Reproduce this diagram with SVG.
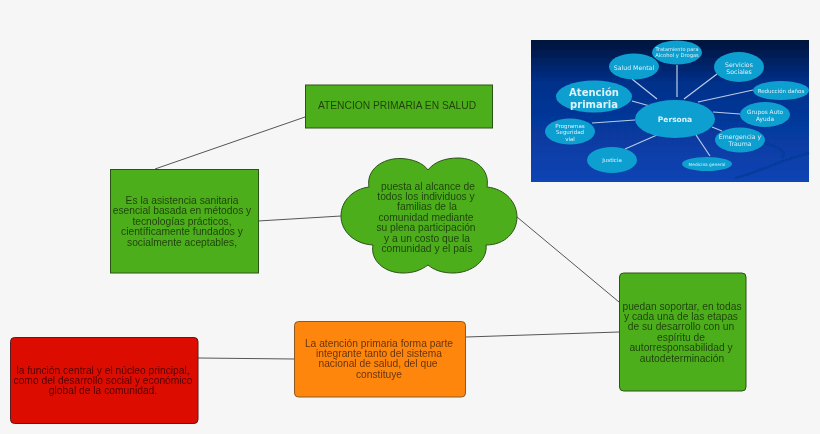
<svg xmlns="http://www.w3.org/2000/svg" width="820" height="434" viewBox="0 0 820 434">
<style>
.n{font:10.25px "Liberation Sans",Arial,sans-serif;fill:#000;fill-opacity:.62;text-anchor:middle}
.g{fill:#4eae1c;stroke:#2c5218;stroke-width:1}
.c{stroke:#555;stroke-width:1;fill:none}
.e{fill:#0e9fcf}
.s{stroke:#b7cde6;stroke-width:1.2;fill:none}
.p{font-family:"DejaVu Sans",Verdana,sans-serif;fill:#dff1fa;text-anchor:middle;font-size:6px}
.b{font-weight:bold}
</style>
<defs>
<linearGradient id="bg" x1="0" y1="0" x2="0" y2="1"><stop offset="0" stop-color="#03133a"/><stop offset="0.3" stop-color="#05308a"/><stop offset="1" stop-color="#0844b4"/></linearGradient>
<filter id="soft" x="-5%" y="-5%" width="110%" height="110%"><feGaussianBlur stdDeviation="0.55"/></filter>
<filter id="t" x="-2%" y="-2%" width="104%" height="104%"><feGaussianBlur stdDeviation="0.25"/></filter>
</defs>
<rect width="820" height="434" fill="#f6f6f6"/>
<g id="connectors" filter="url(#t)">
<path class="c" d="M155 169L305 117"/>
<path class="c" d="M258 221L341 216"/>
<path class="c" d="M517 217L619 302"/>
<path class="c" d="M466 337L619 332"/>
<path class="c" d="M198 358L294 359"/>
</g>
<g id="n-title" filter="url(#t)">
<rect class="g" x="305.500" y="85" width="187" height="43"/>
<text class="n" x="397" y="109">ATENCION PRIMARIA EN SALUD</text>
</g>
<g id="n-def" filter="url(#t)">
<rect class="g" x="110.500" y="169.500" width="148" height="103.500"/>
<text class="n"><tspan x="182" y="204">Es la asistencia sanitaria</tspan><tspan x="182" y="214.400">esencial basada en métodos y</tspan><tspan x="182" y="224.800">tecnologías prácticos,</tspan><tspan x="182" y="235.200">científicamente fundados y</tspan><tspan x="182" y="245.600">socialmente aceptables,</tspan></text>
</g>
<g id="n-cloud" filter="url(#t)">
<path class="g" d="M369 187C366 170 382 158 401 158.500C413 159 423 163 428 170C434 162 445 158 458 158C476 158 490 170 487 187C506 189 517 203 517 217C517 232 505 245 486 245C488 260 472 273 453 273C442 273 434 270 428 265C421 270 414 273 403 273C384 273 370 260 373 245C354 244 341 231 341 216C341 201 353 189 369 187Z"/>
<text class="n"><tspan x="428" y="189.500">puesta al alcance de</tspan><tspan x="426" y="199.900">todos los individuos y</tspan><tspan x="427" y="210.300">familias de la</tspan><tspan x="426" y="220.700">comunidad mediante</tspan><tspan x="426" y="231.100">su plena participación</tspan><tspan x="427" y="241.500">y a un costo que la</tspan><tspan x="427" y="251.900">comunidad y el país</tspan></text>
</g>
<g id="n-right" filter="url(#t)">
<rect class="g" x="619.500" y="273" width="126.500" height="118" rx="4"/>
<text class="n"><tspan x="682" y="309.500">puedan soportar, en todas</tspan><tspan x="681" y="319.900">y cada una de las etapas</tspan><tspan x="681" y="330.300">de su desarrollo con un</tspan><tspan x="681" y="340.700">espíritu de</tspan><tspan x="681" y="351.100">autorresponsabilidad y</tspan><tspan x="682" y="361.500">autodeterminación</tspan></text>
</g>
<g id="n-orange" filter="url(#t)">
<rect x="294.500" y="321.500" width="171" height="75.500" rx="4" fill="#ff8610" stroke="#8a5a20"/>
<text class="n"><tspan x="379" y="346.500">La atención primaria forma parte</tspan><tspan x="379" y="356.900">integrante tanto del sistema</tspan><tspan x="378" y="367.300">nacional de salud, del que</tspan><tspan x="379" y="377.700">constituye</tspan></text>
</g>
<g id="n-red" filter="url(#t)">
<rect x="10.500" y="337.500" width="187.500" height="86" rx="4" fill="#dc0a00" stroke="#5a1a1a"/>
<text class="n"><tspan x="103" y="373.500">la función central y el núcleo principal,</tspan><tspan x="103" y="383.900">como del desarrollo social y económico</tspan><tspan x="103" y="394.300">global de la comunidad.</tspan></text>
</g>
<g id="picture" filter="url(#soft)">
<rect x="531" y="40" width="278" height="142" fill="url(#bg)"/>
<path d="M809 153C780 160 760 172 735 178M745 141C765 142 790 148 782 158" stroke="#073a9a" stroke-width="2" fill="none"/>
<path class="s" d="M632 101L650 106M632 79L657 99M677 65L677 97M717 74L684 99M753 90L698 102M740 114L713 112M722 131L712 127M710 156L696 135M625 149L657 135M592 123L635 120"/>
<ellipse class="e" cx="675" cy="119" rx="40" ry="19"/>
<ellipse class="e" cx="594" cy="96.500" rx="38" ry="16"/>
<ellipse class="e" cx="634" cy="66.500" rx="25" ry="13"/>
<ellipse class="e" cx="677" cy="52.500" rx="25" ry="12"/>
<ellipse class="e" cx="739" cy="67" rx="25" ry="15"/>
<ellipse class="e" cx="781" cy="90.500" rx="28" ry="9.500"/>
<ellipse class="e" cx="765" cy="114.500" rx="25" ry="12.500"/>
<ellipse class="e" cx="740" cy="140" rx="25" ry="12.500"/>
<ellipse class="e" cx="707" cy="164" rx="25" ry="7"/>
<ellipse class="e" cx="612" cy="160" rx="25" ry="13"/>
<ellipse class="e" cx="570" cy="131.500" rx="25" ry="13"/>
<text class="p b" x="675" y="122" style="font-size:7.500px">Persona</text>
<text class="p b" style="font-size:10px"><tspan x="594" y="95.500">Atención</tspan><tspan x="594" y="107.500">primaria</tspan></text>
<text class="p" x="634" y="69.500" style="font-size:6.200px">Salud Mental</text>
<text class="p" x="677" y="51" style="font-size:5px">Tratamiento para</text>
<text class="p" x="677" y="57" style="font-size:5.200px">Alcohol y Drogas</text>
<text class="p" style="font-size:6.200px"><tspan x="739" y="66.500">Servicios</tspan><tspan x="739" y="73.500">Sociales</tspan></text>
<text class="p" x="781" y="92.500" style="font-size:5.500px">Reducción daños</text>
<text class="p" style="font-size:5.800px"><tspan x="765" y="114">Grupos Auto</tspan><tspan x="765" y="120.500">Ayuda</tspan></text>
<text class="p" style="font-size:6.200px"><tspan x="740" y="139">Emergencia y</tspan><tspan x="740" y="146.200">Trauma</tspan></text>
<text class="p" x="707" y="165.500" style="font-size:4.300px">Medicina general</text>
<text class="p" x="612" y="162" style="font-size:5.500px">Justicia</text>
<text class="p" style="font-size:5.500px"><tspan x="570" y="127.500">Programas</tspan><tspan x="570" y="134">Seguridad</tspan><tspan x="570" y="140.500">vial</tspan></text>
</g>
</svg>
